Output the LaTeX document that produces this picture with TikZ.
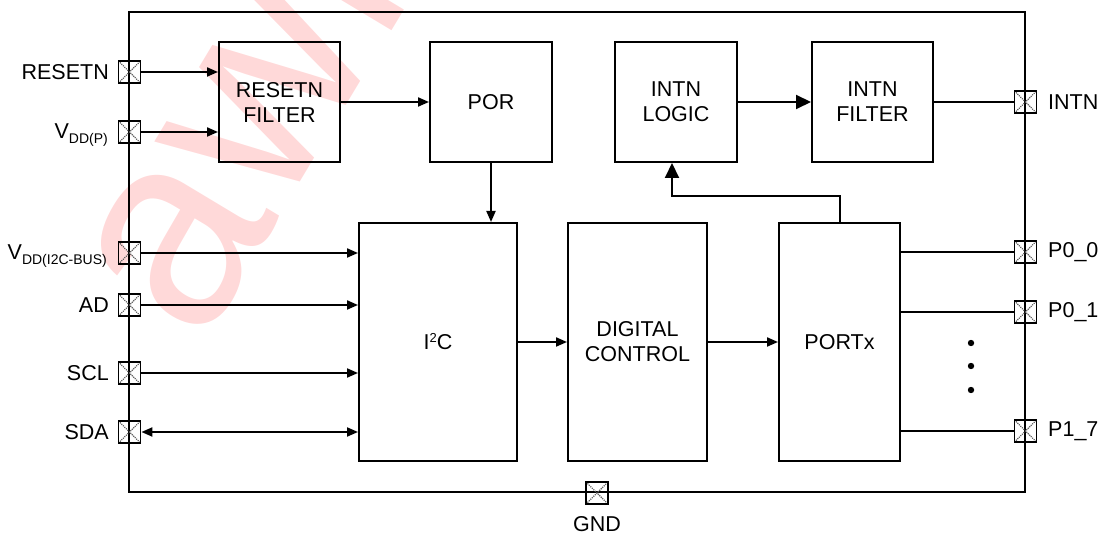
\documentclass[tikz,border=0pt]{standalone}
\usepackage{fontspec}
\setmainfont{Liberation Sans}
\usetikzlibrary{arrows.meta,calc}
\begin{document}
\begin{tikzpicture}[x=1pt,y=-1pt,
  every node/.style={font=\fontsize{21.5}{25}\selectfont},
  blk/.style={draw,line width=2pt,inner sep=0pt,align=center},
  pad/.style={draw,line width=1.8pt,minimum size=22pt,inner sep=0pt,
    path picture={\draw[gray!70!black,densely dotted,line width=1.1pt]
      (path picture bounding box.south west)--(path picture bounding box.north east)
      (path picture bounding box.north west)--(path picture bounding box.south east);}},
  wire/.style={line width=2pt},
  sarr/.style={wire,-{Triangle[length=11pt,width=9pt]}},
  darr/.style={wire,{Triangle[length=11pt,width=9pt]}-{Triangle[length=11pt,width=9pt]}},
  barr/.style={wire,-{Triangle[length=15pt,width=14pt]}},
  lbl/.style={inner sep=0pt}
]
\useasboundingbox (0,0) rectangle (1104,534);
% watermark
\node[rotate=59,anchor=base west,text=red!15,inner sep=0pt,font=\fontsize{275}{275}\selectfont] (wm) at (201,348) {awinic};
% chip outline
\draw[wire] (129,12) rectangle (1025,492);
% blocks
\node[blk,minimum width=121pt,minimum height=120pt] (rf) at (279.5,102) {RESETN\\FILTER};
\node[blk,minimum width=122pt,minimum height=120pt] (por) at (491,102) {POR};
\node[blk,minimum width=122pt,minimum height=120pt] (il) at (676,102) {INTN\\LOGIC};
\node[blk,minimum width=121pt,minimum height=120pt] (ifl) at (872.5,102) {INTN\\FILTER};
\node[blk,minimum width=158pt,minimum height=238pt] (i2c) at (438,342) {I\raisebox{7pt}{\fontsize{13}{13}\selectfont 2}C};
\node[blk,minimum width=139pt,minimum height=238pt] (dc) at (637.5,342) {DIGITAL\\CONTROL};
\node[blk,minimum width=121pt,minimum height=238pt] (px) at (839.5,342) {PORTx};
% pads
\node[pad] (presetn) at (129.5,72) {};
\node[pad] (pvddp) at (129.5,132) {};
\node[pad] (pvddi) at (129.5,253) {};
\node[pad] (pad) at (129.5,305) {};
\node[pad] (pscl) at (129.5,373) {};
\node[pad] (psda) at (129.5,432) {};
\node[pad] (pgnd) at (597,493) {};
\node[pad] (pintn) at (1025.5,102) {};
\node[pad] (pp00) at (1025.5,252) {};
\node[pad] (pp01) at (1025.5,312) {};
\node[pad] (pp17) at (1025.5,431) {};
% pin labels
\node[lbl,anchor=east] (lresetn) at (109,72) {RESETN};
\node[lbl,anchor=base east] (lvddp) at (108,139) {V\raisebox{-4.5pt}{\fontsize{14}{14}\selectfont DD(P)}};
\node[lbl,anchor=base east] (lvddi) at (107,260) {V\raisebox{-4.5pt}{\fontsize{14}{14}\selectfont DD(I2C-BUS)}};
\node[lbl,anchor=east] (lad) at (109,305) {AD};
\node[lbl,anchor=east] (lscl) at (109,373) {SCL};
\node[lbl,anchor=east] (lsda) at (109,432) {SDA};
\node[lbl,anchor=north] (lgnd) at (597,516) {GND};
\node[lbl,anchor=west] (lintn) at (1048,102) {INTN};
\node[lbl,anchor=west] (lp00) at (1048,252) {P0\_0};
\node[lbl,anchor=west] (lp01) at (1048,312) {P0\_1};
\node[lbl,anchor=west] (lp17) at (1048,431) {P1\_7};
% connectors
\draw[sarr] (presetn.east) -- (presetn.east -| rf.west);
\draw[sarr] (pvddp.east) -- (pvddp.east -| rf.west);
\draw[sarr] (rf.east) -- (por.west);
\draw[sarr] (por.south) -- (por.south |- i2c.north);
\draw[barr] (il.east) -- (ifl.west);
\draw[wire] (ifl.east) -- (pintn.west);
\draw[sarr] (pvddi.east) -- (pvddi.east -| i2c.west);
\draw[sarr] (pad.east) -- (pad.east -| i2c.west);
\draw[sarr] (pscl.east) -- (pscl.east -| i2c.west);
\draw[darr] (psda.east) -- (psda.east -| i2c.west);
\draw[sarr] (i2c.east) -- (dc.west);
\draw[sarr] (dc.east) -- (px.west);
\coordinate (turn) at (839.5,196);
\coordinate (turn2) at (672,196);
\draw[barr] (px.north) -- (turn) -- (turn2) -- (turn2 |- il.south);
\draw[wire] (pp00.west -| px.east) -- (pp00.west);
\draw[wire] (pp01.west -| px.east) -- (pp01.west);
\draw[wire] (pp17.west -| px.east) -- (pp17.west);
% dots
\fill (971,343) circle (3.2pt) (971,366) circle (3.2pt) (971,390) circle (3.2pt);
\end{tikzpicture}
\end{document}
